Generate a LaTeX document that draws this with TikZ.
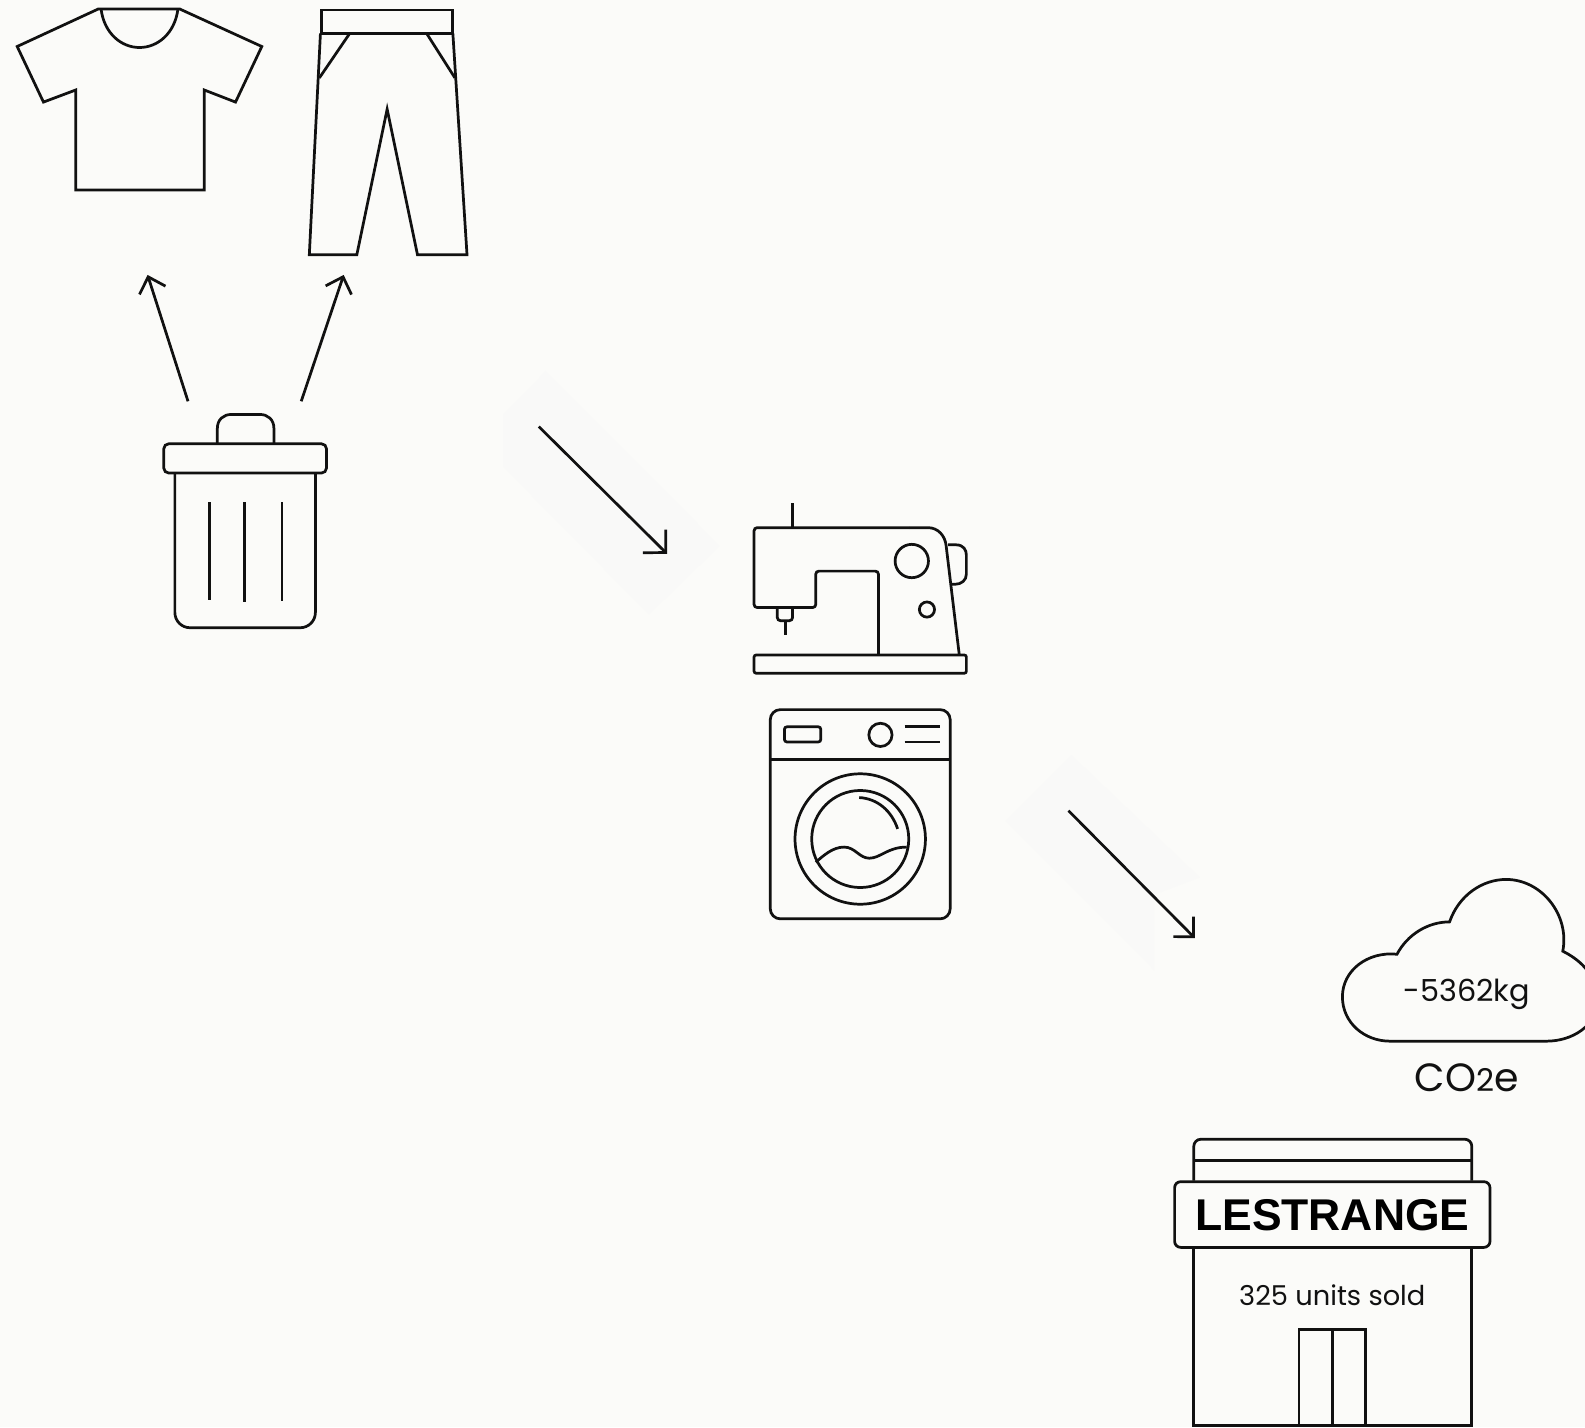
\documentclass[tikz,border=0pt]{standalone}
\usepackage{fontspec}
\setmainfont{Poppins}
\newfontfamily\signfont{Liberation Sans}
\usetikzlibrary{arrows.meta}
\definecolor{bgc}{HTML}{FBFBF9}
\definecolor{smear}{HTML}{F9F9F8}
\definecolor{inkc}{HTML}{111111}
\tikzset{
  icon/.style={draw=inkc,line width=2.7pt,line join=miter},
  bigarrow/.style={draw=inkc,line width=2.7pt,-{Straight Barb[length=14pt,width=27pt,line width=2.7pt]}},
  diagarrow/.style={draw=inkc,line width=2.7pt,-{Straight Barb[length=16pt,width=32pt,line width=2.7pt]}},
  smallarrow/.style={draw=inkc,line width=2.7pt,-{Straight Barb[length=14pt,width=28pt,line width=2.7pt]}},
  smearfill/.style={fill=smear,draw=none},
  label/.style={text=inkc,inner sep=0pt,anchor=base,font=\fontsize{30}{36}\selectfont}
}
\begin{document}
\begin{tikzpicture}[x=1pt,y=-1pt]
\useasboundingbox (0,0) rectangle (1568,1412);
\clip (0,0) rectangle (1568,1412);
\fill[bgc] (0,0) rectangle (1568,1412);
% faint bands
\fill[smearfill] (540,367) -- (712,540) -- (642,608) -- (498,462) -- (498,410) -- cycle;
\fill[smearfill] (1060,747) -- (1187,868) -- (1142,885) -- (1142,960) -- (995,812) -- cycle;
% shirt
\draw[icon] (97,9) -- (178,9) -- (259,46) -- (233,101) -- (202,89) -- (202,188) -- (75,188) -- (75,89) -- (43,101) -- (17,46) -- cycle;
\draw[icon] (100,9) .. controls (103,33) and (120,47) .. (138,47) .. controls (156,47) and (173,33) .. (176,9);
% trousers
\draw[icon] (318,10) rectangle (448,33);
\draw[icon] (317,33) -- (306,252) -- (353,252) -- (383,108) -- (413,252) -- (462,252) -- (448,33);
\draw[icon] (346,33) -- (316,77);
\draw[icon] (422,33) -- (450,77);
% bin
\draw[icon] (215,439) -- (215,424) .. controls (215,415) and (221,410) .. (229,410) -- (257,410) .. controls (265,410) and (271,415) .. (271,424) -- (271,439);
\draw[icon,rounded corners=5pt] (162,439) rectangle (323,468);
\draw[icon,rounded corners=15pt] (173,468) -- (173,621) -- (312,621) -- (312,468);
\draw[icon] (207,497) -- (207,594);
\draw[icon] (242,497) -- (242,596);
\draw[icon] (279,497) -- (279,595);
% sewing machine
\draw[icon] (784,498) -- (784,522);
\draw[icon,rounded corners=3pt] (869,648) -- (869,565) -- (807,565) -- (807,601) -- (746,601) -- (746,522) -- (900,522);
\draw[icon] (900,522) -- (918,522) .. controls (928,522) and (935,530) .. (936,540) -- (949,648);
\draw[icon,rounded corners=2pt] (746,648) rectangle (956,666);
\draw[icon] (902,555) circle (16.5);
\draw[icon] (917,603) circle (7.5);
\draw[icon] (938,539) -- (946,539) .. controls (953,539) and (956,544) .. (956,549) -- (956,568) .. controls (956,574) and (951,578) .. (945,578) -- (941,578);
\draw[icon,rounded corners=3pt] (769,601) -- (769,614) -- (784,614) -- (784,601);
\draw[icon] (777,614) -- (777,628);
% washing machine
\draw[icon,rounded corners=10pt] (762,702) rectangle (940,909);
\draw[icon] (762,751) -- (940,751);
\draw[icon,rounded corners=2.5pt] (776,719) rectangle (812,734);
\draw[icon] (871,727) circle (11.5);
\draw[icon] (895,719) -- (930,719);
\draw[icon] (895,734) -- (930,734);
\draw[icon] (851,830) circle (64.5);
\draw[icon] (851,830) circle (48);
\draw[icon] (850,789) .. controls (868,790) and (882,802) .. (888,820);
\draw[icon] (807,853) .. controls (815,846) and (824,838) .. (835,838) .. controls (846,838) and (850,849) .. (860,849) .. controls (871,849) and (878,838) .. (897,838);
% cloud
\draw[icon] (1375,1030) .. controls (1350,1030) and (1328,1012) .. (1328,986) .. controls (1328,960) and (1353,941) .. (1382,944)
  .. controls (1392,925) and (1412,912) .. (1434,912)
  .. controls (1443,886) and (1466,870) .. (1490,870)
  .. controls (1525,870) and (1553,905) .. (1546,941)
  .. controls (1560,948) and (1580,962) .. (1580,990)
  .. controls (1580,1015) and (1555,1030) .. (1530,1030) -- cycle;
\node[label] (cloudval) at (1451,991) {-5362kg};
\node[label,font=\fontsize{39}{44}\selectfont] (coo) at (1451,1080) {CO{\fontsize{31}{36}\selectfont 2}e};
% shop
\draw[icon,rounded corners=7pt] (1181,1168) -- (1181,1127) -- (1456,1127) -- (1456,1168);
\draw[icon] (1181,1148) -- (1456,1148);
\draw[icon,rounded corners=6pt] (1162,1169) rectangle (1474,1234);
\draw[icon] (1181,1234) -- (1181,1410) -- (1456,1410) -- (1456,1234);
\draw[icon] (1285,1315) rectangle (1351,1410);
\draw[icon] (1318,1315) -- (1318,1410);
\node[inner sep=0pt,anchor=base,text=black,font=\signfont\bfseries\fontsize{44}{50}\selectfont] (sign) at (1318,1217) {LESTRANGE};
\node[label,font=\fontsize{27}{32}\selectfont] (units) at (1318,1291) {325 units sold};
% arrows
\coordinate (binL) at (186,397);
\coordinate (shirtEnd) at (146,272);
\coordinate (binR) at (298,397);
\coordinate (pantsEnd) at (340,272);
\coordinate (a1s) at (533,422);
\coordinate (a1e) at (660,548);
\coordinate (a2s) at (1057,802);
\coordinate (a2e) at (1182,928);
\draw[bigarrow] (binL) -- (shirtEnd);
\draw[bigarrow] (binR) -- (pantsEnd);
\draw[diagarrow] (a1s) -- (a1e);
\draw[smallarrow] (a2s) -- (a2e);
\end{tikzpicture}
\end{document}
